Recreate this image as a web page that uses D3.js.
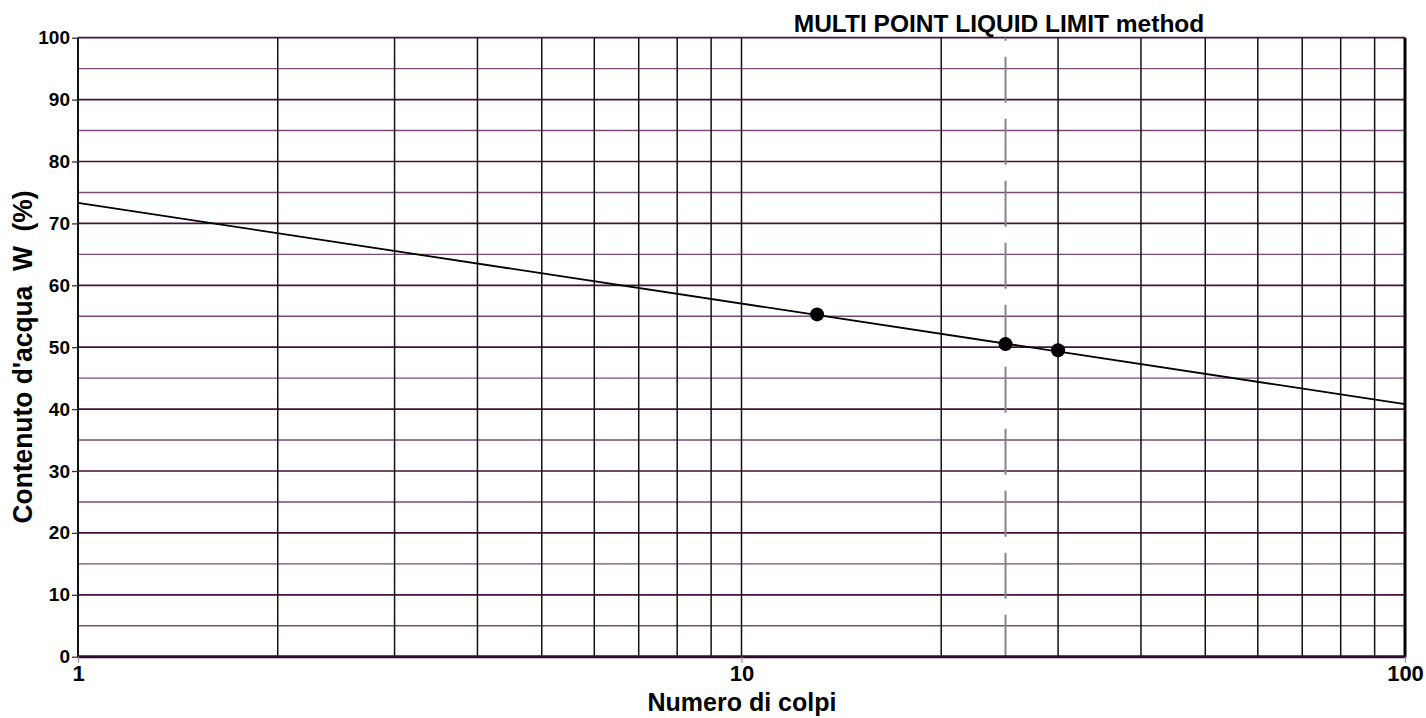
<!DOCTYPE html>
<html><head><meta charset="utf-8">
<script src="https://d3js.org/d3.v7.min.js"></script>
<style>
html,body{margin:0;padding:0;background:#fff;}
svg{display:block;font-family:"Liberation Sans",Arial,sans-serif;font-weight:bold;}
</style></head>
<body>
<script>
// ---- data ----
const blows = [13, 25, 30];            // Numero di colpi
const water = [55.3, 50.5, 49.5];      // Contenuto d'acqua W (%)
const fitN = [1, 100];                 // flow line end points
const fitW = [73.3, 40.8];
const liquidLimitN = [25];             // reference line at 25 blows
const xTickLabels = [1, 10, 100];
const yTickLabels = [0, 10, 20, 30, 40, 50, 60, 70, 80, 90, 100];
const yMinorGrid = [5, 15, 25, 35, 45, 55, 65, 75, 85, 95];
const xGrid = [2, 3, 4, 5, 6, 7, 8, 9, 10, 20, 30, 40, 50, 60, 70, 80, 90];

const W = 1426, H = 718;
const L = 78, R = 1405, T = 37.7, B = 656.7;

const svg = d3.select("body").append("svg").attr("width", W).attr("height", H);
const x = d3.scaleLog().domain([1, 100]).range([L, R]);
const y = d3.scaleLinear().domain([0, 100]).range([B, T]);

// minor horizontal grid
svg.append("g").selectAll("line").data(yMinorGrid).join("line")
  .attr("x1", L).attr("x2", R).attr("y1", d => y(d)).attr("y2", d => y(d))
  .attr("stroke", "#774a77").attr("stroke-width", 1.4);
// major horizontal grid
svg.append("g").selectAll("line").data(yTickLabels.filter(d => d > 0)).join("line")
  .attr("x1", L).attr("x2", R).attr("y1", d => y(d)).attr("y2", d => y(d))
  .attr("stroke", "#43103f").attr("stroke-width", 1.7);
// vertical grid
svg.append("g").selectAll("line").data(xGrid).join("line")
  .attr("x1", d => x(d)).attr("x2", d => x(d)).attr("y1", T).attr("y2", B)
  .attr("stroke", "#111").attr("stroke-width", 1.5);

// dashed liquid limit line
svg.append("g").selectAll("line").data(liquidLimitN).join("line")
  .attr("x1", d => x(d)).attr("x2", d => x(d)).attr("y1", T).attr("y2", B)
  .attr("stroke", "#858585").attr("stroke-width", 2)
  .attr("stroke-dasharray", "46,16").attr("stroke-dashoffset", 43);

// axes frame
svg.append("line").attr("x1", L).attr("x2", L).attr("y1", T).attr("y2", B + 1)
  .attr("stroke", "#111").attr("stroke-width", 2);
svg.append("line").attr("x1", R).attr("x2", R).attr("y1", T).attr("y2", B + 1)
  .attr("stroke", "#000").attr("stroke-width", 3);
svg.append("line").attr("x1", L).attr("x2", R).attr("y1", y(0)).attr("y2", y(0))
  .attr("stroke", "#2e0a2c").attr("stroke-width", 3);

// y axis ticks and labels
const yAxis = d3.axisLeft(y).tickValues(yTickLabels).tickSize(6).tickPadding(2);
const gy = svg.append("g").attr("transform", `translate(${L},0)`).call(yAxis);
gy.select(".domain").remove();
gy.selectAll(".tick line").attr("stroke", "#333").attr("stroke-width", 1.3);
gy.selectAll(".tick text").attr("font-size", 19).attr("font-weight", "bold")
  .attr("font-family", "Liberation Sans, Arial, sans-serif").attr("fill", "#000");

// x axis ticks and labels
const xAxis = d3.axisBottom(x).tickValues(xTickLabels).tickFormat(d3.format("d")).tickSize(6).tickPadding(3);
const gx = svg.append("g").attr("transform", `translate(0,${B})`).call(xAxis);
gx.select(".domain").remove();
gx.selectAll(".tick line").attr("stroke", "#999").attr("stroke-width", 1.3);
gx.selectAll(".tick text").attr("font-size", 22).attr("font-weight", "bold")
  .attr("font-family", "Liberation Sans, Arial, sans-serif").attr("fill", "#000");

// flow line
svg.append("path")
  .datum(fitN.map((n, i) => [n, fitW[i]]))
  .attr("d", d3.line().x(d => x(d[0])).y(d => y(d[1])))
  .attr("fill", "none").attr("stroke", "#000").attr("stroke-width", 1.8);

// points
svg.append("g").selectAll("circle").data(blows.map((n, i) => [n, water[i]])).join("circle")
  .attr("cx", d => x(d[0])).attr("cy", d => y(d[1])).attr("r", 7).attr("fill", "#000");

// titles
svg.append("text").attr("x", 999).attr("y", 31.5).attr("text-anchor", "middle")
  .attr("font-size", 24.5).text("MULTI POINT LIQUID LIMIT method");
svg.append("text").attr("x", (L + R) / 2 + 0.5).attr("y", 711).attr("text-anchor", "middle")
  .attr("font-size", 25).text("Numero di colpi");
svg.append("text")
  .attr("transform", "translate(32,357) rotate(-90)")
  .attr("text-anchor", "middle").attr("font-size", 28)
  .style("white-space", "pre")
  .attr("textLength", 333).attr("lengthAdjust", "spacingAndGlyphs")
  .text("Contenuto d'acqua  W  (%)");
</script>
</body></html>
